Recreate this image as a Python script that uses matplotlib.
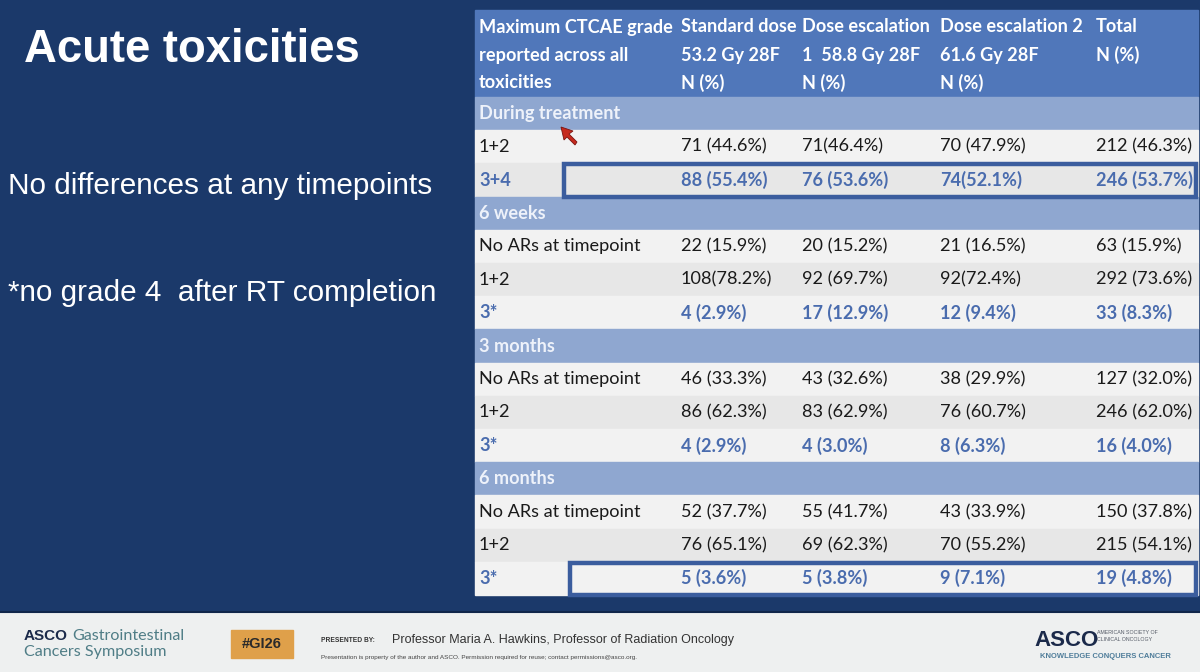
import matplotlib
matplotlib.use("Agg")
import matplotlib.pyplot as plt
from matplotlib.patches import Rectangle, Polygon

# ---------------- data ----------------
title = "Acute toxicities"
bullet_1 = "No differences at any timepoints"
bullet_2 = "*no grade 4  after RT completion"

col_headers = [
    "Maximum CTCAE grade\nreported across all\ntoxicities",
    "Standard dose\n53.2 Gy 28F\nN (%)",
    "Dose escalation\n1  58.8 Gy 28F\nN (%)",
    "Dose escalation 2\n61.6 Gy 28F\nN (%)",
    "Total\nN (%)",
]

row_labels = ["During treatment", "1+2", "3+4",
              "6 weeks", "No ARs at timepoint", "1+2", "3*",
              "3 months", "No ARs at timepoint", "1+2", "3*",
              "6 months", "No ARs at timepoint", "1+2", "3*"]
row_kind = ["section", "plain", "bold",
            "section", "plain", "plain", "bold",
            "section", "plain", "plain", "bold",
            "section", "plain", "plain", "bold"]
standard_dose = ["", "71 (44.6%)", "88 (55.4%)",
                 "", "22 (15.9%)", "108(78.2%)", "4 (2.9%)",
                 "", "46 (33.3%)", "86 (62.3%)", "4 (2.9%)",
                 "", "52 (37.7%)", "76 (65.1%)", "5 (3.6%)"]
dose_esc_1 = ["", "71(46.4%)", "76 (53.6%)",
              "", "20 (15.2%)", "92 (69.7%)", "17 (12.9%)",
              "", "43 (32.6%)", "83 (62.9%)", "4 (3.0%)",
              "", "55 (41.7%)", "69 (62.3%)", "5 (3.8%)"]
dose_esc_2 = ["", "70 (47.9%)", "74(52.1%)",
              "", "21 (16.5%)", "92(72.4%)", "12 (9.4%)",
              "", "38 (29.9%)", "76 (60.7%)", "8 (6.3%)",
              "", "43 (33.9%)", "70 (55.2%)", "9 (7.1%)"]
total = ["", "212 (46.3%)", "246 (53.7%)",
         "", "63 (15.9%)", "292 (73.6%)", "33 (8.3%)",
         "", "127 (32.0%)", "246 (62.0%)", "16 (4.0%)",
         "", "150 (37.8%)", "215 (54.1%)", "19 (4.8%)"]
highlight_rows = [2, 14]

presenter = "Professor Maria A. Hawkins, Professor of Radiation Oncology"
disclaimer = ("Presentation is property of the author and ASCO. Permission required for reuse; "
              "contact permissions@asco.org.")

# ---------------- style ----------------
NAVY = "#1b396a"
HEAD = "#5077ba"
SECT = "#8fa7d0"
ROW_A = "#f2f2f2"
ROW_B = "#e7e7e7"
BLUE_TXT = "#4a6cae"
BOX = "#3b5d9e"
TFONT = "Lato"
TSIZE = 13.1

fig = plt.figure(figsize=(12, 6.72), dpi=100)
ax = fig.add_axes([0, 0, 1, 1])
ax.set_xlim(0, 1200)
ax.set_ylim(672, 0)
ax.axis("off")
fig.patch.set_facecolor(NAVY)

ax.add_patch(Rectangle((0, 0), 1200, 612, color=NAVY, zorder=0))

# left text
ax.text(24, 50, title, color="white", fontsize=32.8, fontweight="bold",
        family="Liberation Sans", va="center", ha="left")
ax.text(8, 186, bullet_1, color="white", fontsize=21.4,
        family="Liberation Sans", va="center", ha="left")
ax.text(8, 293, bullet_2, color="white", fontsize=21.4,
        family="Liberation Sans", va="center", ha="left")

# ---------------- table ----------------
x0, x1 = 475, 1198
top, head_h = 10, 87
n = len(row_labels)
row_h = (595 - (top + head_h)) / n
col_x = [479, 681, 802, 940, 1096]

ax.add_patch(Rectangle((x0, top), x1 - x0, head_h, color=HEAD, zorder=1))
for j, h in enumerate(col_headers):
    for k, line in enumerate(h.split("\n")):
        ax.text(col_x[j], top + 17 + k * 28, line, color="white", fontsize=TSIZE,
                fontweight="bold", family=TFONT, va="center", ha="left", zorder=3)

columns = [standard_dose, dose_esc_1, dose_esc_2, total]
alt = 0
for i in range(n):
    y = top + head_h + i * row_h
    kind = row_kind[i]
    if kind == "section":
        fc = SECT
        alt = 0
    else:
        fc = ROW_A if alt % 2 == 0 else ROW_B
        alt += 1
    ax.add_patch(Rectangle((x0, y), x1 - x0, row_h, color=fc, zorder=1))
    yc = y + row_h / 2
    if kind == "section":
        ax.text(col_x[0], yc, row_labels[i], color="#eef2fa", fontsize=TSIZE,
                fontweight="bold", family=TFONT, va="center", ha="left", zorder=3)
        continue
    color = BLUE_TXT if kind == "bold" else "#1a1a1a"
    weight = "bold" if kind == "bold" else "normal"
    ax.text(col_x[0], yc, row_labels[i], color=color, fontsize=TSIZE,
            fontweight=weight, family=TFONT, va="center", ha="left", zorder=3)
    for j, col in enumerate(columns):
        ax.text(col_x[j + 1], yc, col[i], color=color, fontsize=TSIZE,
                fontweight=weight, family=TFONT, va="center", ha="left", zorder=3)

# highlight boxes
box_left = {2: 564, 14: 570}
for r in highlight_rows:
    y = top + head_h + r * row_h
    ax.add_patch(Rectangle((box_left[r], y + 1), x1 - box_left[r] - 2, row_h - 1,
                           fill=False, ec=BOX, lw=3.2, zorder=4))

# mouse cursor pointer
tip_x, tip_y = 561, 127
cursor = Polygon([(tip_x, tip_y), (tip_x + 12, tip_y + 4), (tip_x + 8, tip_y + 7),
                  (tip_x + 16, tip_y + 15), (tip_x + 14, tip_y + 18),
                  (tip_x + 6, tip_y + 10), (tip_x + 3, tip_y + 13)],
                 closed=True, fc="#c62a1e", ec="#7a1410", lw=0.6, zorder=5)
ax.add_patch(cursor)

# ---------------- footer ----------------
ax.add_patch(Rectangle((0, 612), 1200, 60, color="#eef0f0", zorder=1))
ax.plot([0, 1200], [612, 612], color="#10264a", lw=1.5, zorder=2)
ax.text(24, 636, "ASCO", color="#1b2a4a", fontsize=11, fontweight="bold",
        family="Liberation Sans", va="center", ha="left", zorder=3)
ax.text(72, 636, "Gastrointestinal", color="#4f7d86", fontsize=11.6,
        family="Lato", va="center", ha="left", zorder=3)
ax.text(24, 652, "Cancers Symposium", color="#4f7d86", fontsize=11.6,
        family="Lato", va="center", ha="left", zorder=3)
ax.add_patch(Rectangle((231, 630), 62, 28, color="#dfa04a", zorder=2))
ax.text(262, 644, "#GI26", color="#2a2a2a", fontsize=10.5, fontweight="bold",
        family="Liberation Sans", va="center", ha="center", zorder=3)
ax.text(321, 641, "PRESENTED BY:", color="#333333", fontsize=4.8, fontweight="bold",
        family="Liberation Sans", va="center", ha="left", zorder=3)
ax.text(392, 640, presenter, color="#333333", fontsize=9,
        family="Liberation Sans", va="center", ha="left", zorder=3)
ax.text(321, 657, disclaimer, color="#444444", fontsize=4.6,
        family="Liberation Sans", va="center", ha="left", zorder=3)
ax.text(1034, 641, "ASCO", color="#1b2a4a", fontsize=16, fontweight="bold",
        family="Liberation Sans", va="center", ha="left", zorder=3)
ax.text(1097, 636, "AMERICAN SOCIETY OF\nCLINICAL ONCOLOGY", color="#555b66",
        fontsize=3.8, family="Liberation Sans", va="center", ha="left",
        linespacing=1.3, zorder=3)
ax.text(1040, 657, "KNOWLEDGE CONQUERS CANCER", color="#4f7d9a", fontsize=5.5,
        fontweight="bold", family="Liberation Sans", va="center", ha="left", zorder=3)

fig.savefig("out.png", dpi=100, facecolor=NAVY)
